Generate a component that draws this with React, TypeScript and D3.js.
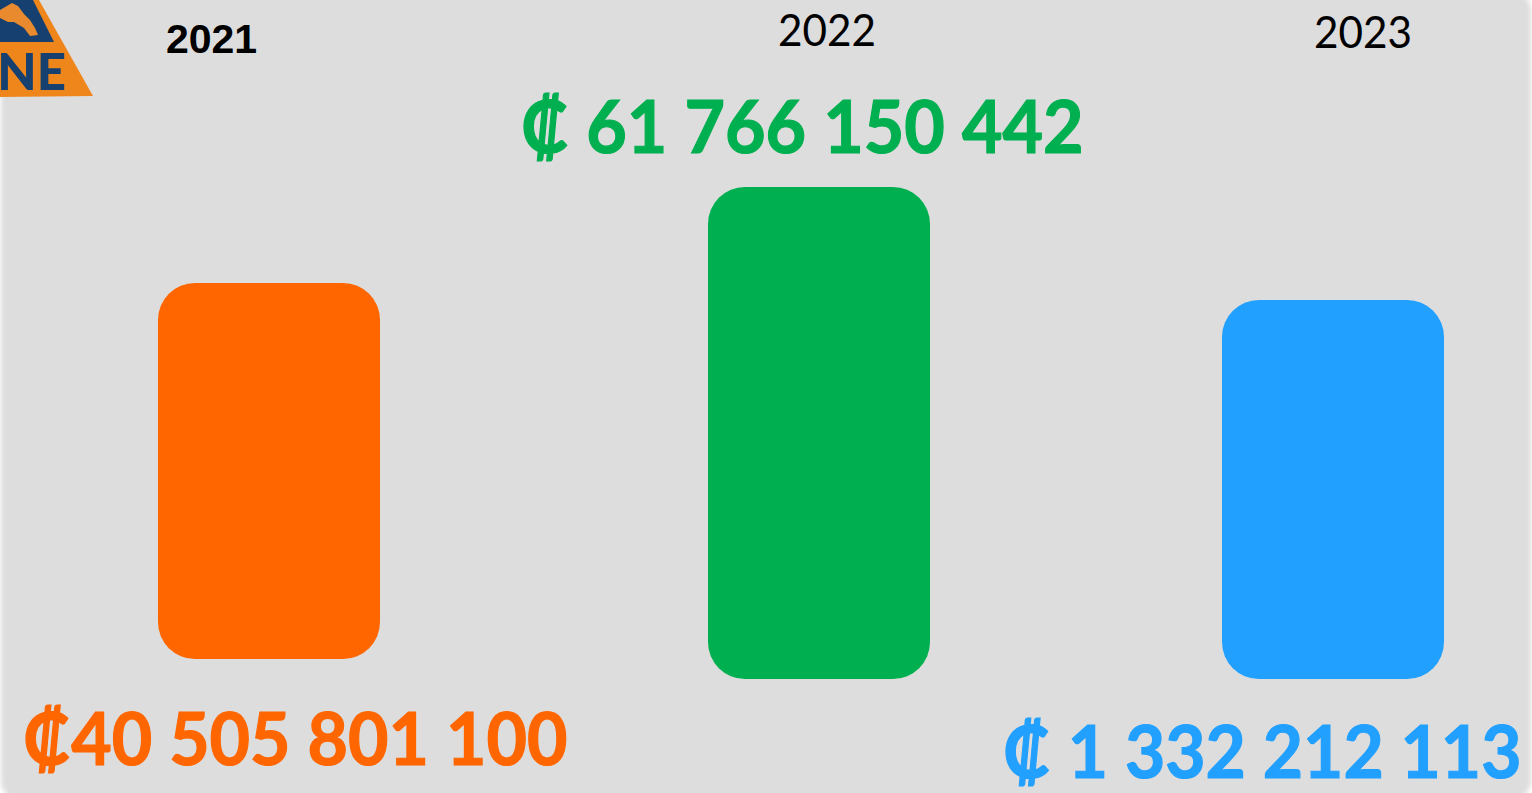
import React, { useEffect } from "react";
import * as d3 from "d3";

const years = ["2021", "2022", "2023"];
const amounts = ["₡40 505 801 100", "₡ 61 766 150 442", "₡ 1 332 212 113"];
const colors = ["#ff6600", "#00b050", "#22a0ff"];
// Bar tops and bases, in picture units above the bottom edge
const barTops = [510, 606, 493];
const barBases = [134, 114, 114];
const barLefts = [158, 708, 1222];

const W = 1532;
const H = 793;
const FONT = "Lato, 'Open Sans', sans-serif";

export default function App() {
  useEffect(() => {
    document.body.style.margin = "0";
    document.body.style.background = "#fff";
  }, []);
  const y = d3.scaleLinear().domain([0, H]).range([H, 0]);
  const x = d3.scaleLinear().domain([0, W]).range([0, W]);
  const bw = 222;
  const yearPos = [
    { x: 211.5, y: 53, weight: 700, size: 41, tf: "" },
    { x: 827, y: 46, weight: 400, size: 44, tf: "scale(0.96,1)" },
    { x: 1363, y: 48, weight: 400, size: 44, tf: "scale(0.96,1)" },
  ];
  const labelPos = [
    { x: 23, y: 765, sx: 0.97 },
    { x: 521, y: 153, sx: 0.972 },
    { x: 1003, y: 778, sx: 0.965 },
  ];
  return (
    <svg width={W} height={H} style={{ position: "absolute", left: 0, top: 0, display: "block" }}>
      <defs>
        <filter id="edge" x="-2%" y="-2%" width="104%" height="104%">
          <feGaussianBlur stdDeviation="2.5" />
        </filter>
        <filter id="soft" x="-5%" y="-5%" width="110%" height="110%">
          <feGaussianBlur stdDeviation="0.6" />
        </filter>
      </defs>
      <rect x={0} y={0} width={W} height={H} fill="#fff" />
      <rect x={1} y={-8} width={W - 2} height={H + 14} rx={18} fill="#dddddd" filter="url(#edge)" />
      {/* logo */}
      <g filter="url(#soft)">
        <path d="M0,0 L39,0 L93,96 L0,97 Z" fill="#ef861e" />
        <path d="M0,0 L33,0 L54,42 L0,42 Z" fill="#12406f" />
        <path d="M0,10 L12,3 L18,6 L24,14 L30,20 L35,28 L38,35 L30,36 L24,28 L14,22 L8,22 L0,18 Z" fill="#e98a2e" />
        <text x={66} y={90} textAnchor="end" fontFamily={FONT} fontWeight={900} fontSize={51} fill="#12406f">NE</text>
      </g>
      {years.map((d, i) => (
        <rect
          key={d}
          x={x(barLefts[i])}
          y={y(barTops[i])}
          width={bw}
          height={y(barBases[i]) - y(barTops[i])}
          rx={37}
          fill={colors[i]}
        />
      ))}
      {years.map((d, i) => (
        <text
          key={d}
          textAnchor="middle"
          transform={`translate(${yearPos[i].x},${yearPos[i].y}) ${yearPos[i].tf}`}
          fontFamily={i === 0 ? "'Liberation Sans', sans-serif" : "Lato, sans-serif"}
          fontWeight={yearPos[i].weight}
          fontSize={yearPos[i].size}
          fill="#000"
        >
          {d}
        </text>
      ))}
      {amounts.map((d, i) => (
        <text
          key={d}
          transform={`translate(${labelPos[i].x},${labelPos[i].y}) scale(${labelPos[i].sx},1)`}
          fontFamily={FONT}
          fontWeight={700}
          fontSize={72}
          fill={colors[i]}
          stroke={colors[i]}
          strokeWidth={1.2}
        >
          {d}
        </text>
      ))}
    </svg>
  );
}
